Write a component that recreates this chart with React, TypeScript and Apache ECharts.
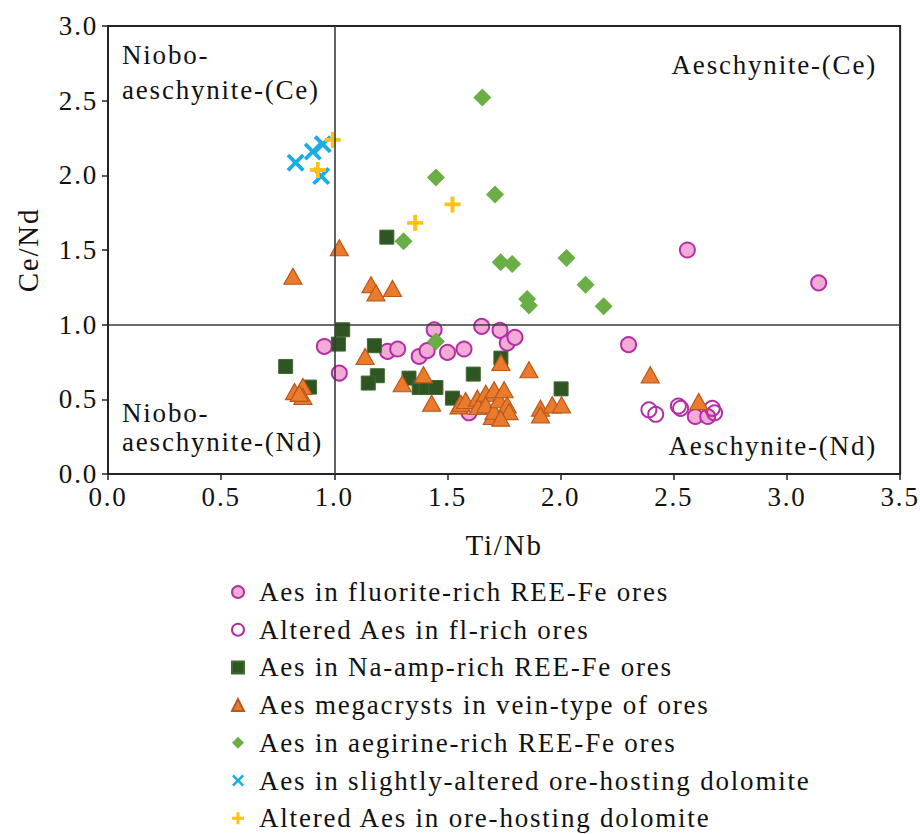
import { useEffect, useRef } from "react";
import * as echarts from "echarts";

// Ti/Nb (x) vs Ce/Nd (y) for each aeschynite group
const fluoriteRich: number[][] = [
  [2.56, 1.5], [3.14, 1.28], [2.3, 0.866], [0.956, 0.854], [1.022, 0.676],
  [1.235, 0.821], [1.28, 0.837], [1.375, 0.787], [1.41, 0.826], [1.441, 0.966],
  [1.5, 0.814], [1.573, 0.837], [1.651, 0.989], [1.732, 0.962], [1.764, 0.877],
  [1.798, 0.915], [1.595, 0.41], [2.595, 0.385], [2.65, 0.385],
];
const alteredFlRich: number[][] = [
  [2.39, 0.43], [2.42, 0.4], [2.52, 0.455], [2.53, 0.44], [2.67, 0.44], [2.68, 0.41],
];
const naAmpRich: number[][] = [
  [0.785, 0.72], [0.89, 0.582], [1.018, 0.87], [1.037, 0.966], [1.177, 0.859],
  [1.19, 0.658], [1.15, 0.609], [1.232, 1.586], [1.33, 0.642], [1.375, 0.579],
  [1.405, 0.579], [1.449, 0.579], [1.522, 0.508], [1.614, 0.669], [1.736, 0.776],
  [2.002, 0.57],
];
const veinMegacrysts: number[][] = [
  [0.817, 1.324], [1.022, 1.515], [1.162, 1.268], [1.184, 1.213], [1.257, 1.242],
  [0.824, 0.552], [0.861, 0.586], [0.861, 0.519], [0.845, 0.54], [1.136, 0.787],
  [1.3, 0.604], [1.394, 0.664], [1.43, 0.474], [1.551, 0.456], [1.559, 0.474],
  [1.58, 0.492], [1.632, 0.508], [1.636, 0.452], [1.669, 0.541], [1.669, 0.463],
  [1.706, 0.564], [1.698, 0.385], [1.706, 0.42], [1.728, 0.497], [1.75, 0.564],
  [1.764, 0.463], [1.772, 0.418], [1.735, 0.374], [1.736, 0.747], [1.86, 0.698],
  [1.911, 0.441], [1.911, 0.396], [1.963, 0.463], [2.004, 0.463], [2.396, 0.664],
  [2.61, 0.485],
];
const aegirineRich: number[][] = [
  [1.654, 2.521], [1.449, 1.985], [1.71, 1.872], [1.306, 1.559], [1.735, 1.418],
  [1.786, 1.407], [2.026, 1.447], [2.11, 1.268], [1.852, 1.172], [1.86, 1.128],
  [2.19, 1.123], [1.449, 0.888],
];
const slightlyAlteredDolomite: number[][] = [
  [0.829, 2.085], [0.905, 2.159], [0.949, 2.208], [0.942, 1.995],
];
const alteredDolomite: number[][] = [
  [0.993, 2.237], [0.927, 2.036], [1.357, 1.682], [1.522, 1.805],
];

const seriesNames = [
  "Aes in fluorite-rich REE-Fe ores",
  "Altered Aes in fl-rich ores",
  "Aes in Na-amp-rich REE-Fe ores",
  "Aes megacrysts in vein-type of ores",
  "Aes in aegirine-rich REE-Fe ores",
  "Aes in slightly-altered ore-hosting dolomite",
  "Altered Aes in ore-hosting dolomite",
];

// quadrant boundaries
const tiNbBoundary = 1.0;
const ceNdBoundary = 1.0;

const FONT = "'Liberation Serif', 'Times New Roman', serif";
const CROSS_X =
  "path://M0,1.5L1.5,0L5,3.5L8.5,0L10,1.5L6.5,5L10,8.5L8.5,10L5,6.5L1.5,10L0,8.5L3.5,5Z";
const PLUS = "path://M3.8,0H6.2V3.8H10V6.2H6.2V10H3.8V6.2H0V3.8H3.8Z";

export default function App() {
  const ref = useRef<HTMLDivElement>(null);

  useEffect(() => {
    const chart = echarts.init(ref.current!, null, { renderer: "svg" });

    const axisText = { color: "#111", fontFamily: FONT, fontSize: 27 };
    const quadText = (text: string, x: number, y: number, align: string) => ({
      type: "text",
      x,
      y,
      silent: true,
      style: {
        text,
        fill: "#111",
        fontFamily: FONT,
        fontSize: 27,
        textAlign: align,
        textVerticalAlign: "middle",
      },
    });

    chart.setOption({
      animation: false,
      backgroundColor: "#ffffff",
      grid: {
        left: 108,
        top: 26,
        width: 794,
        height: 448,
        show: true,
        borderColor: "#222",
        borderWidth: 2,
      },
      xAxis: {
        type: "value",
        min: 0,
        max: 3.5,
        interval: 0.5,
        name: "Ti/Nb",
        nameLocation: "middle",
        nameGap: 56,
        nameTextStyle: { ...axisText, fontSize: 29 },
        axisLine: { show: true, onZero: false, lineStyle: { color: "#222", width: 2 } },
        axisTick: { show: true, inside: false, length: 6, lineStyle: { color: "#222", width: 1.5 } },
        axisLabel: { ...axisText, margin: 9, formatter: (v: number) => v.toFixed(1) },
        splitLine: { show: false },
      },
      yAxis: {
        type: "value",
        min: 0,
        max: 3,
        interval: 0.5,
        name: "Ce/Nd",
        nameLocation: "middle",
        nameRotate: 90,
        nameGap: 66,
        nameTextStyle: { ...axisText, fontSize: 29 },
        axisLine: { show: true, onZero: false, lineStyle: { color: "#222", width: 2 } },
        axisTick: { show: true, inside: false, length: 6, lineStyle: { color: "#222", width: 1.5 } },
        axisLabel: { ...axisText, margin: 10, formatter: (v: number) => v.toFixed(1) },
        splitLine: { show: false },
      },
      legend: {
        data: seriesNames,
        orient: "vertical",
        left: 231,
        top: 578,
        padding: 0,
        itemWidth: 12,
        itemHeight: 12,
        itemGap: 9.7,
        selectedMode: false,
        textStyle: {
          color: "#111",
          fontFamily: FONT,
          fontSize: 27,
          lineHeight: 28,
          padding: [0, 0, 0, 10],
        },
      },
      graphic: [
        quadText("Niobo-", 122, 55, "left"),
        quadText("aeschynite-(Ce)", 122, 90, "left"),
        quadText("Aeschynite-(Ce)", 877, 65, "right"),
        quadText("Niobo-", 122, 413, "left"),
        quadText("aeschynite-(Nd)", 122, 442, "left"),
        quadText("Aeschynite-(Nd)", 877, 446, "right"),
      ],
      series: [
        {
          name: "boundaries",
          type: "scatter",
          data: [],
          z: 1,
          silent: true,
          markLine: {
            silent: true,
            symbol: ["none", "none"],
            label: { show: false },
            lineStyle: { color: "#3a3a3a", width: 1.6, type: "solid" },
            data: [{ xAxis: tiNbBoundary }, { yAxis: ceNdBoundary }],
          },
        },
        {
          name: seriesNames[0],
          type: "scatter",
          data: fluoriteRich,
          z: 2,
          symbol: "circle",
          symbolSize: 15,
          itemStyle: { color: "#F3AAD6", borderColor: "#B22FA6", borderWidth: 2, opacity: 1 },
        },
        {
          name: seriesNames[1],
          type: "scatter",
          data: alteredFlRich,
          z: 2,
          symbol: "circle",
          symbolSize: 15,
          itemStyle: { color: "rgba(255,255,255,0)", borderColor: "#B22FA6", borderWidth: 2, opacity: 1 },
        },
        {
          name: seriesNames[2],
          type: "scatter",
          data: naAmpRich,
          z: 2,
          symbol: "rect",
          symbolSize: 14,
          itemStyle: { color: "#2E5522", borderColor: "#3E6A30", borderWidth: 1, opacity: 1 },
        },
        {
          name: seriesNames[3],
          type: "scatter",
          data: veinMegacrysts,
          z: 2,
          symbol: "triangle",
          symbolSize: [18, 16],
          itemStyle: { color: "#EB7B2C", borderColor: "#B9581C", borderWidth: 1.2, opacity: 1 },
        },
        {
          name: seriesNames[4],
          type: "scatter",
          data: aegirineRich,
          z: 2,
          symbol: "diamond",
          symbolSize: 18,
          itemStyle: { color: "#6BAE46", opacity: 1 },
        },
        {
          name: seriesNames[5],
          type: "scatter",
          data: slightlyAlteredDolomite,
          z: 2,
          symbol: CROSS_X,
          symbolSize: 18,
          itemStyle: { color: "#1AADE4", opacity: 1 },
        },
        {
          name: seriesNames[6],
          type: "scatter",
          data: alteredDolomite,
          z: 2,
          symbol: PLUS,
          symbolSize: 16,
          itemStyle: { color: "#FFC20E", opacity: 1 },
        },
      ],
    });

    return () => chart.dispose();
  }, []);

  return (
    <div
      ref={ref}
      style={{
        position: "absolute",
        left: 0,
        top: 0,
        width: 920,
        height: 834,
        background: "#ffffff",
        letterSpacing: "1.8px",
      }}
    />
  );
}
